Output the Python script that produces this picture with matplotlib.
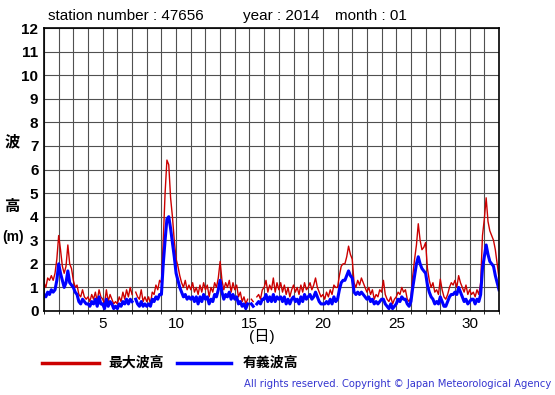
import numpy as np
import matplotlib
matplotlib.use("Agg")
import matplotlib.pyplot as plt

plt.rcParams['font.family'] = ['Liberation Sans', 'Noto Sans CJK JP', 'DejaVu Sans']

nan = np.nan

# wave heights every 3 hours, days 1..31 (8 values per day) + day 32 00h
max_wave = [
    1.2, 1.0, 1.4, 1.3, 1.5, 1.3, 1.6, 2.2,   # 1
    3.2, 2.6, 1.9, 1.6, 1.9, 2.8, 2.0, 1.8,   # 2
    1.3, 1.0, 1.1, 0.7, 0.6, 0.9, 0.6, 0.5,   # 3
    0.6, 0.4, 0.7, 0.5, 0.8, 0.4, 0.9, 0.6,   # 4
    0.5, 0.3, 0.9, 0.4, 0.7, 0.5, 0.3, 0.4,   # 5
    0.3, 0.6, 0.4, 0.8, 0.5, 0.9, 0.6, 1.0,   # 6
    0.7, nan, 0.8, 0.6, 0.5, 0.9, 0.4, 0.6,   # 7
    0.4, 0.6, 0.3, 0.8, 0.7, 1.1, 0.9, 1.3,   # 8
    1.2, 3.0, 5.0, 6.4, 6.2, 4.8, 4.0, 3.0,   # 9
    2.2, 1.9, 1.5, 1.2, 1.0, 1.3, 0.9, 1.1,   # 10
    0.9, 1.2, 0.8, 1.0, 0.7, 1.1, 0.8, 1.2,   # 11
    0.9, 1.1, 0.6, 1.0, 0.8, 1.2, 1.0, 1.4,   # 12
    2.1, 1.3, 0.9, 1.2, 1.0, 1.3, 0.8, 1.2,   # 13
    0.9, 1.1, 0.6, 0.8, 0.4, 0.6, 0.3, 0.5,   # 14
    nan, 0.5, 0.4, nan, 0.6, 0.7, 0.5, 0.9,   # 15
    1.0, 1.3, 0.8, 1.1, 0.9, 1.4, 0.8, 1.2,   # 16
    0.9, 1.2, 0.8, 1.1, 0.7, 1.0, 0.6, 0.9,   # 17
    1.1, 0.8, 1.0, 0.7, 1.1, 0.8, 1.2, 0.9,   # 18
    1.0, 1.2, 0.9, 1.1, 1.4, 1.0, 0.8, 0.6,   # 19
    0.7, 0.5, 0.8, 0.6, 0.9, 0.7, 1.1, 1.0,   # 20
    1.0, 1.5, 1.9, 2.0, 2.0, 2.3, 2.75, 2.4,  # 21
    2.2, 1.2, 1.0, 1.3, 1.1, 1.4, 1.2, 1.0,   # 22
    0.8, 1.0, 0.7, 0.9, 0.5, 0.7, 0.6, 0.9,   # 23
    0.8, 1.3, 0.7, 0.5, 0.4, 0.6, 0.3, 0.5,   # 24
    0.6, 0.8, 0.7, 1.0, 0.8, 0.9, 0.5, 0.4,   # 25
    0.6, 1.5, 2.2, 2.8, 3.7, 3.0, 2.6, 2.7,   # 26
    2.9, 1.8, 1.3, 1.0, 1.2, 0.8, 0.9, 0.7,   # 27
    1.35, 0.9, 0.6, 0.5, 0.7, 1.0, 1.2, 1.1,  # 28
    1.3, 1.0, 1.5, 1.2, 1.0, 0.8, 1.1, 0.7,   # 29
    0.9, 0.7, 0.8, 0.6, 0.9, 0.7, 1.2, 3.2,   # 30
    3.9, 4.8, 3.8, 3.4, 3.2, 3.0, 2.6, 2.0,   # 31
    1.4,
]

sig_wave = [
    0.7, 0.6, 0.8, 0.7, 0.9, 0.8, 0.9, 1.3,   # 1
    2.0, 1.6, 1.3, 1.0, 1.2, 1.7, 1.2, 1.1,   # 2
    1.0, 0.8, 0.7, 0.4, 0.3, 0.5, 0.4, 0.3,   # 3
    0.3, 0.2, 0.4, 0.3, 0.5, 0.2, 0.6, 0.3,   # 4
    0.3, 0.1, 0.5, 0.2, 0.4, 0.3, 0.1, 0.2,   # 5
    0.1, 0.3, 0.2, 0.4, 0.3, 0.5, 0.3, 0.5,   # 6
    0.4, nan, 0.5, 0.3, 0.2, 0.4, 0.2, 0.3,   # 7
    0.2, 0.3, 0.2, 0.5, 0.4, 0.6, 0.5, 0.7,   # 8
    0.7, 2.0, 3.0, 3.9, 4.0, 3.5, 2.9, 2.3,   # 9
    1.6, 1.3, 1.0, 0.8, 0.6, 0.7, 0.5, 0.6,   # 10
    0.5, 0.6, 0.4, 0.6, 0.3, 0.6, 0.4, 0.7,   # 11
    0.5, 0.6, 0.3, 0.5, 0.4, 0.7, 0.6, 0.9,   # 12
    1.3, 0.8, 0.5, 0.7, 0.6, 0.8, 0.5, 0.7,   # 13
    0.5, 0.6, 0.3, 0.4, 0.2, 0.3, 0.1, 0.3,   # 14
    nan, 0.3, 0.2, nan, 0.3, 0.4, 0.3, 0.5,   # 15
    0.5, 0.7, 0.4, 0.6, 0.4, 0.7, 0.4, 0.6,   # 16
    0.5, 0.6, 0.4, 0.6, 0.3, 0.5, 0.3, 0.5,   # 17
    0.6, 0.4, 0.5, 0.3, 0.6, 0.4, 0.7, 0.5,   # 18
    0.6, 0.7, 0.5, 0.6, 0.8, 0.6, 0.4, 0.3,   # 19
    0.3, 0.3, 0.4, 0.3, 0.5, 0.3, 0.6, 0.4,   # 20
    0.5, 0.9, 1.2, 1.3, 1.3, 1.5, 1.7, 1.5,   # 21
    1.4, 0.8, 0.7, 0.8, 0.7, 0.8, 0.7, 0.6,   # 22
    0.5, 0.6, 0.4, 0.5, 0.3, 0.4, 0.3, 0.4,   # 23
    0.5, 0.5, 0.3, 0.2, 0.1, 0.3, 0.1, 0.2,   # 24
    0.3, 0.5, 0.4, 0.6, 0.5, 0.5, 0.3, 0.2,   # 25
    0.4, 1.0, 1.5, 2.0, 2.3, 2.0, 1.8, 1.7,   # 26
    1.6, 1.1, 0.8, 0.6, 0.5, 0.3, 0.4, 0.3,   # 27
    0.6, 0.4, 0.2, 0.2, 0.4, 0.6, 0.7, 0.7,   # 28
    0.8, 0.7, 1.0, 0.8, 0.6, 0.4, 0.5, 0.3,   # 29
    0.4, 0.5, 0.5, 0.3, 0.5, 0.4, 0.7, 1.8,   # 30
    2.3, 2.8, 2.4, 2.1, 2.0, 1.9, 1.5, 1.2,   # 31
    0.9,
]

days = 1 + np.arange(len(max_wave)) / 8.0

fig = plt.figure(figsize=(5.55, 3.95), dpi=100)
W, H = 555.0, 395.0
ax = fig.add_axes([44 / W, 1 - 311 / H, (499 - 44) / W, (311 - 28) / H])

ax.plot(days, max_wave, color='#cc0000', lw=1.0)
ax.plot(days, sig_wave, color='#0000ff', lw=2.2)

ax.set_xlim(1, 32)
ax.set_ylim(0, 12)
ax.set_xticks(np.arange(1, 33), minor=True)
ax.set_xticks([5, 10, 15, 20, 25, 30])
ax.set_yticks(np.arange(0, 13))
ax.grid(True, which='both', color='#505050', lw=0.8)
ax.tick_params(length=0, pad=4)
for lab in ax.get_yticklabels():
    lab.set_fontweight('bold')
    lab.set_fontsize(11)
for lab in ax.get_xticklabels():
    lab.set_fontsize(11)
for s in ax.spines.values():
    s.set_linewidth(1.2)
ax.set_axisbelow(True)

def fx(px):
    return px / W

def fy(py):
    return 1 - py / H

fig.text(fx(48), fy(16), 'station number : 47656', fontsize=11, va='center')
fig.text(fx(243), fy(16), 'year : 2014', fontsize=11, va='center')
fig.text(fx(335), fy(16), 'month : 01', fontsize=11, va='center')

fig.text(fx(12), fy(142), '波', fontsize=11, fontweight='bold', ha='center', va='center')
fig.text(fx(12), fy(207), '高', fontsize=11, fontweight='bold', ha='center', va='center')
fig.text(fx(13), fy(237), '(m)', fontsize=10, fontweight='bold', ha='center', va='center')
fig.text(fx(262), fy(337), '(日)', fontsize=11, ha='center', va='center')

fig.add_artist(plt.Line2D([fx(42), fx(99)], [fy(363), fy(363)], color='#cc0000', lw=2.5))
fig.text(fx(108), fy(363), '最大波高', fontsize=10, fontweight='bold', va='center')
fig.add_artist(plt.Line2D([fx(177), fx(231)], [fy(363), fy(363)], color='#0000ff', lw=2.5))
fig.text(fx(243), fy(363), '有義波高', fontsize=10, fontweight='bold', va='center')

fig.text(fx(551), fy(384), 'All rights reserved. Copyright © Japan Meteorological Agency',
         fontsize=7.2, color='#3535d0', ha='right', va='center', family='DejaVu Sans')

fig.savefig('out.png', dpi=100)
